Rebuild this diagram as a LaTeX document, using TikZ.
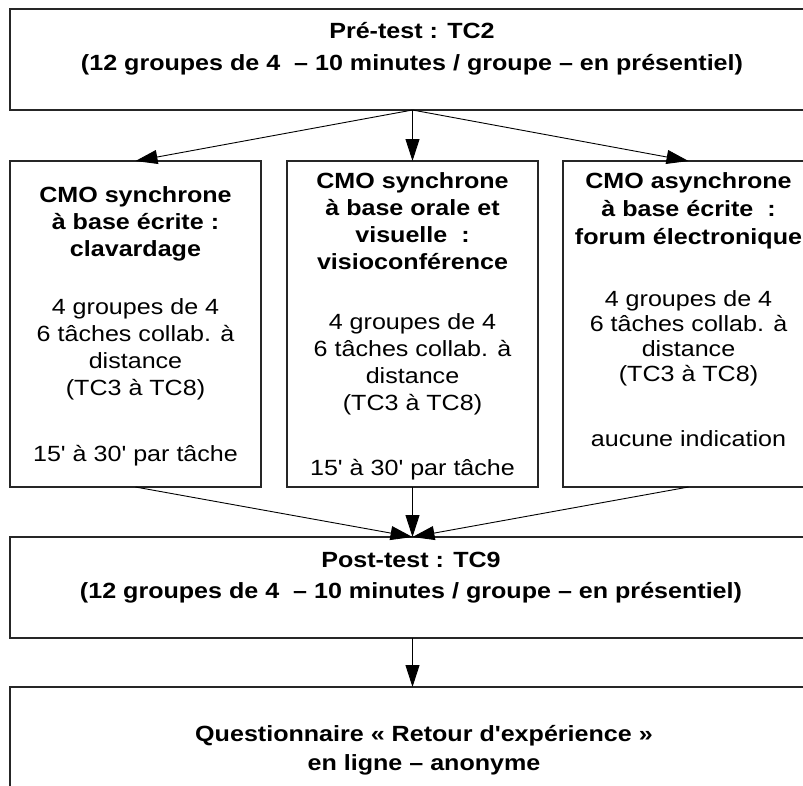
\documentclass[tikz,border=0pt]{standalone}
\usepackage{fontspec}
\setmainfont{Liberation Sans}[FakeStretch=1.14, Ligatures=TeXOff]
\usetikzlibrary{arrows.meta}
\begin{document}
\begin{tikzpicture}[x=1pt,y=-1pt,
  box/.style={draw=black!85, line width=1.2pt, inner sep=0pt, outer sep=0pt, rectangle, anchor=north west},
  conn/.style={draw=black, line width=0.9pt, -{Triangle[length=22pt,width=14pt]}},
  txt/.style={anchor=north, inner sep=0pt, align=center, font=\fontsize{22}{27}\selectfont},
  btxt/.style={txt, font=\fontsize{22}{27}\selectfont\bfseries},
]
\useasboundingbox (0,0) rectangle (803,785);
\clip (0,0) rectangle (803,785);

% boxes
\node[box, minimum width=805pt, minimum height=101pt] (pre) at (10,9) {};
\node[box, minimum width=251pt, minimum height=326pt] (left) at (10,161) {};
\node[box, minimum width=251pt, minimum height=326pt] (mid) at (287,161) {};
\node[box, minimum width=251pt, minimum height=326pt] (right) at (563,161) {};
\node[box, minimum width=805pt, minimum height=101pt] (post) at (10,537) {};
\node[box, minimum width=805pt, minimum height=120pt] (quest) at (10,687) {};

% texts
\node[btxt] (pretxt) at (412,18) {\rule{0pt}{20pt}Pré-test : TC2\\[5pt](12 groupes de 4\ \ – 10 minutes / groupe – en présentiel)};

\node[txt] (lefttxt) at (135.5,182) {\rule{0pt}{20pt}\textbf{CMO synchrone}\\ \textbf{à base écrite :}\\ \textbf{clavardage}\\[31pt]
4 groupes de 4\\ 6 tâches collab. à\\ distance\\ (TC3 à TC8)\\[39pt] 15' à 30' par tâche};

\node[txt] (midtxt) at (412.5,168) {\rule{0pt}{20pt}\textbf{CMO synchrone}\\ \textbf{à base orale et}\\ \textbf{visuelle\ \ :}\\ \textbf{visioconférence}\\[33pt]
4 groupes de 4\\ 6 tâches collab. à\\ distance\\ (TC3 à TC8)\\[38pt] 15' à 30' par tâche};

\node[txt] (righttxt) at (688.5,168) {\rule{0pt}{20pt}\textbf{CMO asynchrone}\\[1pt] \textbf{à base écrite\ \ :}\\[1pt] \textbf{forum électronique}\\[35pt]
4 groupes de 4\\[-2pt] 6 tâches collab. à\\[-2pt] distance\\[-2pt] (TC3 à TC8)\\[38pt] aucune indication};

\node[btxt] (posttxt) at (411,547) {\rule{0pt}{20pt}Post-test : TC9\\[4pt](12 groupes de 4\ \ – 10 minutes / groupe – en présentiel)};

\node[btxt] (questtxt) at (424,721) {\rule{0pt}{20pt}Questionnaire « Retour d'expérience »\\[2pt]en ligne – anonyme};

% connectors
\draw[conn] (pre.south) -- (left.north);
\draw[conn] (pre.south) -- (mid.north);
\draw[conn] (pre.south) -- (right.north);
\draw[conn] (left.south) -- (post.north);
\draw[conn] (mid.south) -- (post.north);
\draw[conn] (right.south) -- (post.north);
\draw[conn] (post.south) -- (quest.north);
\end{tikzpicture}
\end{document}
